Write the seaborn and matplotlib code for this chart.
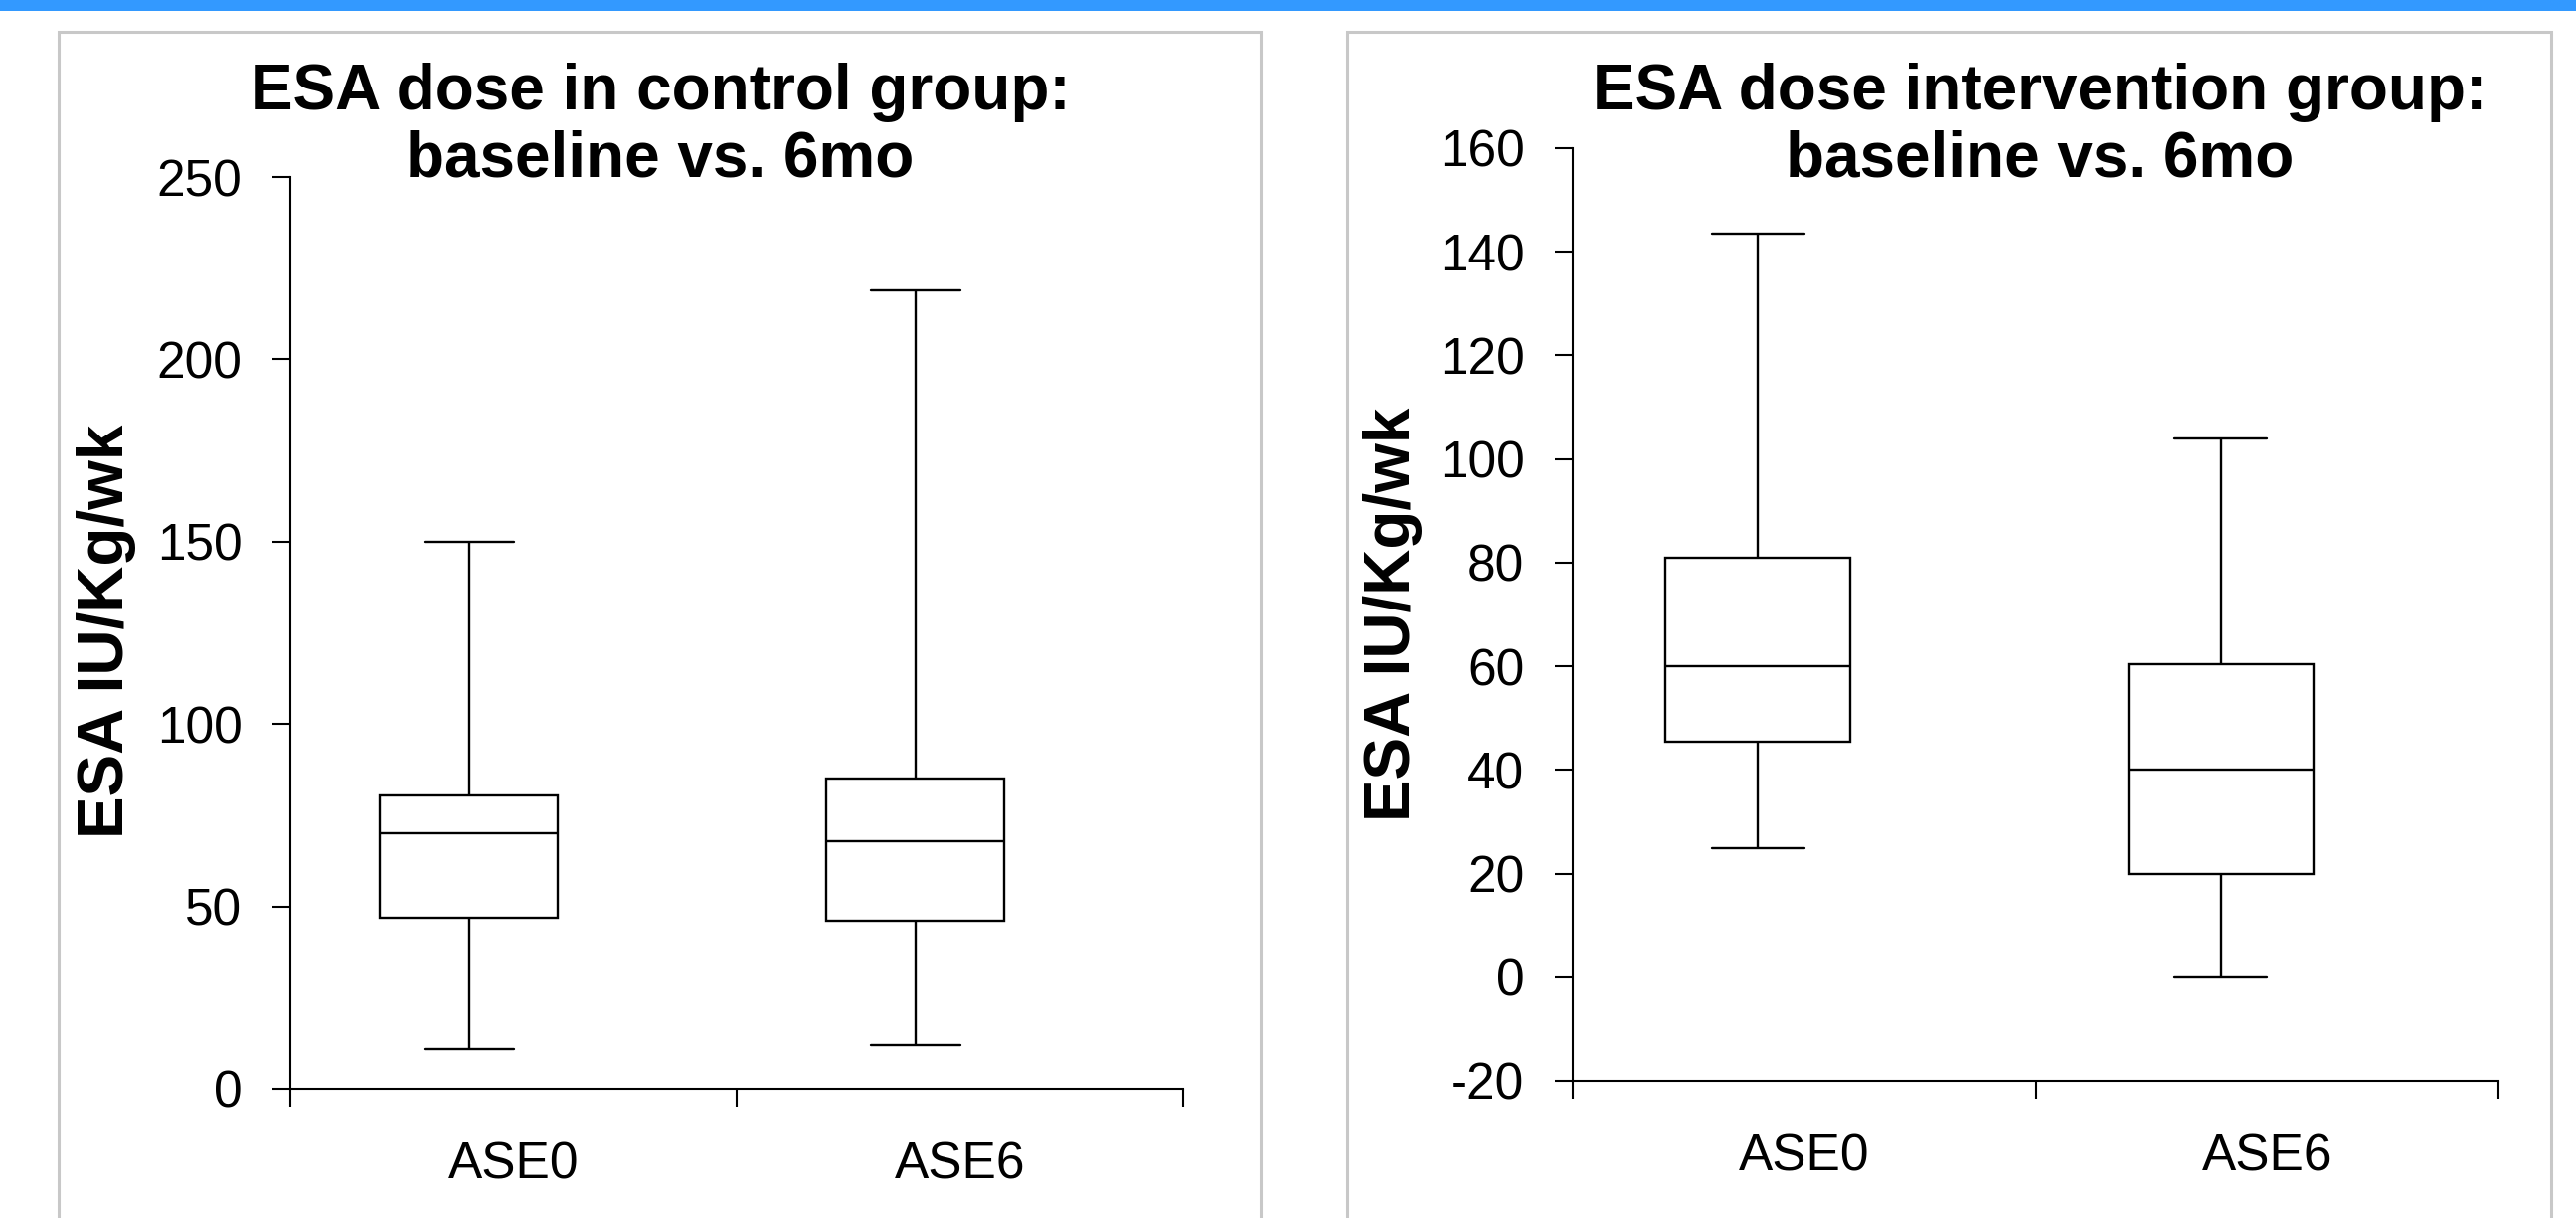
import matplotlib
matplotlib.use("Agg")
import matplotlib.pyplot as plt
from matplotlib.patches import Rectangle
import numpy as np
import pandas as pd
import seaborn as sns

# Five-number summaries (min, Q1, median, Q3, max) per visit
groups = ["ASE0", "ASE6"]
control_ase0 = [11, 47, 70, 80.5, 150]
control_ase6 = [12, 46, 68, 85, 219]
interv_ase0 = [25, 45.5, 60, 81, 143.5]
interv_ase6 = [0, 20, 40, 60.5, 104]

control_ticks = [0, 50, 100, 150, 200, 250]
interv_ticks = [-20, 0, 20, 40, 60, 80, 100, 120, 140, 160]

BOX_SHIFT = -0.1  # boxes sit slightly left of their category centre

sns.set_theme(style="white")
plt.rcParams["font.family"] = ["Liberation Sans", "DejaVu Sans"]
plt.rcParams["text.color"] = "black"

fig = plt.figure(figsize=(25.91, 12.25), dpi=100)
fig.patch.set_facecolor("white")

# header strip and panel frames
fig.patches.append(Rectangle((0, 1 - 11 / 1225), 1, 11 / 1225, transform=fig.transFigure,
                             facecolor="#3399ff", edgecolor="none", zorder=0))
for x0, x1 in [(59, 1268), (1355, 2566)]:
    fig.patches.append(Rectangle((x0 / 2591, -0.1), (x1 - x0) / 2591, 1.1 - 32 / 1225,
                                 transform=fig.transFigure, facecolor="none",
                                 edgecolor="#c8c8c8", linewidth=2.2, zorder=0))


def make_frame(summaries):
    rows = []
    for i, (g, vals) in enumerate(zip(groups, summaries)):
        for v in vals:
            rows.append({"group": g, "pos": i + BOX_SHIFT, "value": v})
    return pd.DataFrame(rows)


def draw_panel(rect, summaries, ticks, title, title_x, ylabel_xy):
    ax = fig.add_axes(rect)
    ax.set_facecolor("none")
    df = make_frame(summaries)
    sns.boxplot(data=df, x="pos", y="value", native_scale=True, whis=(0, 100),
                width=0.4, color="white", linecolor="black", linewidth=1.7,
                fliersize=0, ax=ax)
    ax.set_xlim(-0.5, 1.5)
    ax.set_ylim(ticks[0], ticks[-1])
    ax.set_yticks(ticks)
    ax.set_yticklabels([str(t) for t in ticks])
    ax.set_xticks(range(len(groups)))
    ax.set_xticklabels(groups)
    ax.set_xticks(np.arange(-0.5, len(groups), 1.0), minor=True)
    ax.tick_params(axis="x", which="major", length=0, pad=38, labelsize=37, colors="black")
    ax.tick_params(axis="x", which="minor", length=13, width=1.5, direction="out",
                   color="black", bottom=True)
    ax.tick_params(axis="y", which="major", length=13, width=1.5, direction="out",
                   pad=22, labelsize=37, colors="black", left=True)
    for side in ["top", "right"]:
        ax.spines[side].set_visible(False)
    for side in ["left", "bottom"]:
        ax.spines[side].set_color("black")
        ax.spines[side].set_linewidth(1.5)
    ax.set_xlabel("")
    ax.set_ylabel("")
    fig.text(title_x, 1 - 127 / 1225, title, ha="center", va="center", color="black",
             fontsize=46, fontweight="bold", linespacing=1.17)
    fig.text(ylabel_xy[0], ylabel_xy[1], "ESA IU/Kg/wk", rotation=90, ha="center",
             va="center", fontsize=46, fontweight="bold", color="black")
    return ax


draw_panel([292 / 2591, 1 - 1095 / 1225, (1190 - 292) / 2591, (1095 - 178) / 1225],
           [control_ase0, control_ase6], control_ticks,
           "ESA dose in control group:\nbaseline vs. 6mo", 664 / 2591,
           (107 / 2591, 1 - 635 / 1225))
draw_panel([1582 / 2591, 1 - 1087 / 1225, (2513 - 1582) / 2591, (1087 - 149) / 1225],
           [interv_ase0, interv_ase6], interv_ticks,
           "ESA dose intervention group:\nbaseline vs. 6mo", 2052 / 2591,
           (1401 / 2591, 1 - 618 / 1225))

fig.savefig("out.png", dpi=100, facecolor="white")
